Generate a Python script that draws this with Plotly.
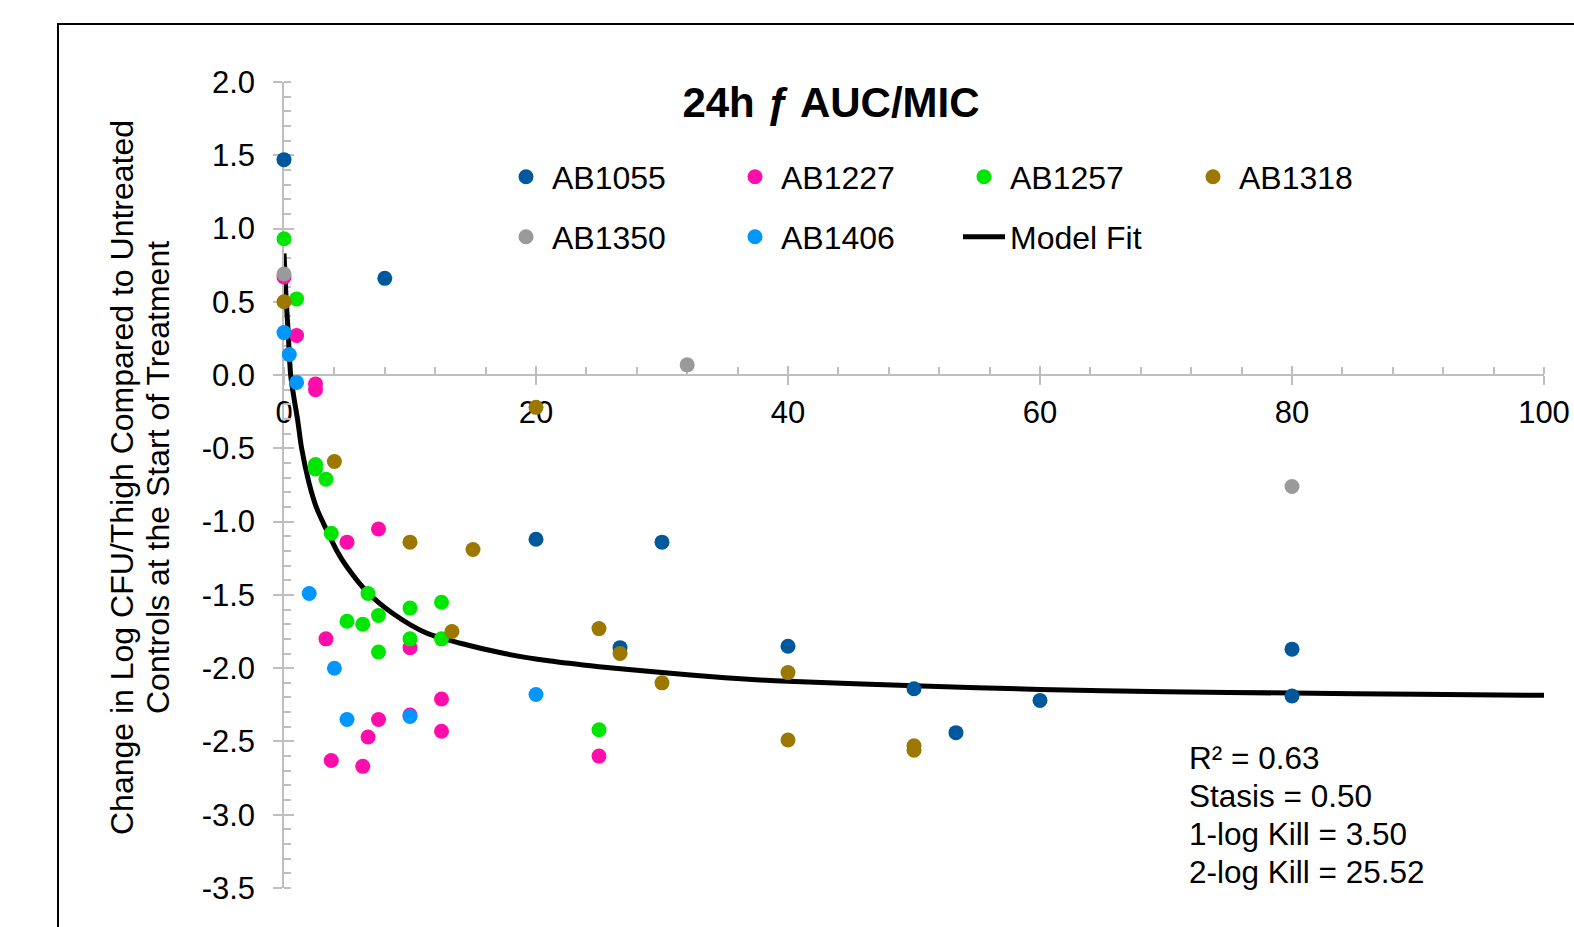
import plotly.graph_objects as go

# ---------------- data ----------------
ab1055_x = [0, 8, 20, 26.67, 30, 40, 50, 53.33, 60, 80, 80]
ab1055_y = [1.47, 0.66, -1.12, -1.86, -1.14, -1.85, -2.14, -2.44, -2.22, -1.87, -2.19]

ab1227_x = [0, 1, 2.5, 2.5, 3.33, 3.75, 5, 6.25, 6.67, 7.5, 7.5, 10, 10, 12.5, 12.5, 25]
ab1227_y = [0.67, 0.27, -0.06, -0.10, -1.80, -2.63, -1.14, -2.67, -2.47, -1.05, -2.35, -1.86, -2.32, -2.21, -2.43, -2.60]

ab1257_x = [0, 1, 2.5, 2.5, 3.33, 3.75, 5, 6.25, 6.67, 7.5, 7.5, 10, 10, 12.5, 12.5, 25]
ab1257_y = [0.93, 0.52, -0.61, -0.64, -0.71, -1.08, -1.68, -1.70, -1.49, -1.64, -1.89, -1.59, -1.80, -1.55, -1.80, -2.42]

ab1318_x = [0, 4, 10, 13.33, 15, 20, 25, 26.67, 30, 40, 40, 50, 50]
ab1318_y = [0.50, -0.59, -1.14, -1.75, -1.19, -0.22, -1.73, -1.90, -2.10, -2.03, -2.49, -2.53, -2.56]

ab1350_x = [0, 32, 80]
ab1350_y = [0.69, 0.07, -0.76]

ab1406_x = [0, 0.42, 1, 2, 4, 5, 10, 20]
ab1406_y = [0.29, 0.14, -0.05, -1.49, -2.00, -2.35, -2.33, -2.18]

fit_x = [0, 0.16, 0.32, 0.53, 0.8, 1.09, 1.4, 2.0, 2.6, 3.4, 4.2, 5.0, 6.6, 8.7, 11.3,
         14, 17.5, 21, 25, 30, 35, 40, 50, 60, 70, 80, 90, 100]
fit_y = [0.83, 0.53, 0.31, 0.0, -0.16, -0.31, -0.50, -0.74, -0.91, -1.06, -1.20, -1.31,
         -1.48, -1.63, -1.76, -1.83, -1.90, -1.95, -1.99, -2.03, -2.065, -2.09, -2.12,
         -2.145, -2.16, -2.17, -2.178, -2.185]

series_names = ["AB1055", "AB1227", "AB1257", "AB1318", "AB1350", "AB1406"]
series_colors = ["#00589C", "#FF0DAA", "#00E600", "#9C7800", "#9A9A9A", "#0096FF"]

x_tickvals = [0, 20, 40, 60, 80, 100]
x_ticktext = ["0", "20", "40", "60", "80", "100"]
y_tickvals = [2.0, 1.5, 1.0, 0.5, 0.0, -0.5, -1.0, -1.5, -2.0, -2.5, -3.0, -3.5]
y_ticktext = ["2.0", "1.5", "1.0", "0.5", "0.0", "-0.5", "-1.0", "-1.5", "-2.0", "-2.5", "-3.0", "-3.5"]

stats_lines = ["R² = 0.63", "Stasis = 0.50", "1-log Kill = 3.50", "2-log Kill = 25.52"]

# ---------------- layout geometry (pixels) ----------------
W, H = 1574, 927
L, R, T, B = 284, 1544, 82, 888
FONT = "Arial, Liberation Sans, sans-serif"
AX = "#BFBFBF"


def px_x(p):
    return (p - L) / (R - L)


def px_y(p):
    return (B - p) / (B - T)


fig = go.Figure()

fig.add_trace(go.Scatter(
    x=fit_x, y=fit_y, mode="lines", name="Model Fit",
    line=dict(color="black", width=5, shape="spline", smoothing=0.8),
    legend="legend2", legendrank=7, cliponaxis=False))

xs = [ab1055_x, ab1227_x, ab1257_x, ab1318_x, ab1350_x, ab1406_x]
ys = [ab1055_y, ab1227_y, ab1257_y, ab1318_y, ab1350_y, ab1406_y]
for i, (nm, col, xx, yy) in enumerate(zip(series_names, series_colors, xs, ys)):
    fig.add_trace(go.Scatter(
        x=xx, y=yy, mode="markers", name=nm,
        marker=dict(color=col, size=15, line=dict(width=0)),
        legend="legend" if i < 4 else "legend2", legendrank=i + 1,
        cliponaxis=False))

# empty trace to activate overlay axes (inner half of crossing major ticks)
fig.add_trace(go.Scatter(x=[], y=[], xaxis="x2", yaxis="y2", showlegend=False,
                         hoverinfo="skip"))

x0_pos = 3.5 / 5.5

common_tick = dict(tickcolor=AX, tickwidth=1.5)
ITEMW = 42
ENTRYW = 228 - (ITEMW + 10) - 4

legend_common = dict(orientation="h", xanchor="left", yanchor="middle",
                     entrywidth=ENTRYW, entrywidthmode="pixels", bgcolor="rgba(0,0,0,0)",
                     font=dict(size=32, family=FONT, color="black"),
                     itemsizing="trace", itemwidth=ITEMW)

fig.update_layout(
    width=W, height=H,
    margin=dict(l=L, r=W - R, t=T, b=H - B, autoexpand=False),
    paper_bgcolor="white", plot_bgcolor="white",
    font=dict(family=FONT, color="black", size=31),
    title=dict(text="<b>24h ƒ AUC/MIC</b>", font=dict(size=42, family=FONT, color="black"),
               xref="paper", yref="paper", x=px_x(831), y=px_y(102),
               xanchor="center", yanchor="middle"),
    xaxis=dict(range=[0, 100], anchor="free", position=x0_pos,
               tickmode="array", tickvals=x_tickvals, ticktext=x_ticktext,
               ticks="outside", ticklen=9, **common_tick,
               minor=dict(ticks="inside", ticklen=7, dtick=4, tick0=0, tickcolor=AX, tickwidth=1.5),
               showline=True, linecolor=AX, linewidth=1.5,
               showgrid=False, zeroline=False, layer="below traces",
               tickfont=dict(size=31, family=FONT, color="black"),
               ticklabelstandoff=1, fixedrange=True),
    yaxis=dict(range=[-3.5, 2.0], anchor="x",
               tickmode="array", tickvals=y_tickvals, ticktext=y_ticktext,
               ticks="outside", ticklen=9, **common_tick,
               minor=dict(ticks="inside", ticklen=7, dtick=0.1, tick0=0, tickcolor=AX, tickwidth=1.5),
               showline=True, linecolor=AX, linewidth=1.5,
               showgrid=False, zeroline=False, layer="below traces",
               tickfont=dict(size=31, family=FONT, color="black"),
               ticklabelstandoff=12, fixedrange=True),
    xaxis2=dict(range=[0, 100], overlaying="x", anchor="free", position=x0_pos,
                tickmode="array", tickvals=x_tickvals, ticks="inside", ticklen=9, **common_tick,
                showticklabels=False, showline=False, showgrid=False, zeroline=False,
                layer="below traces"),
    yaxis2=dict(range=[-3.5, 2.0], overlaying="y", anchor="free", position=0, side="left",
                tickmode="array", tickvals=y_tickvals, ticks="inside", ticklen=9, **common_tick,
                showticklabels=False, showline=False, showgrid=False, zeroline=False,
                layer="below traces"),
    legend=dict(x=px_x(500), y=px_y(177), **legend_common),
    legend2=dict(x=px_x(500), y=px_y(237), **legend_common),
    showlegend=True,
)

# outer chart border (cropped chart area frame)
fig.add_shape(type="rect", xref="paper", yref="paper",
              x0=px_x(58), y0=px_y(1000), x1=px_x(1700), y1=px_y(24),
              line=dict(color="black", width=2), fillcolor="rgba(0,0,0,0)", layer="below")

# y-axis title (two rotated lines)
for txt, cx in [("Change in Log CFU/Thigh Compared to Untreated", 122),
                ("Controls at the Start of Treatment", 158)]:
    fig.add_annotation(text=txt, xref="paper", yref="paper", x=px_x(cx), y=px_y(478),
                       xanchor="center", yanchor="middle", textangle=-90, showarrow=False,
                       font=dict(size=32, family=FONT, color="black"))

# statistics box
for k, line in enumerate(stats_lines):
    fig.add_annotation(text=line, xref="paper", yref="paper", x=px_x(1187), y=px_y(758 + 38 * k),
                       xanchor="left", yanchor="middle", showarrow=False,
                       font=dict(size=31.5, family=FONT, color="black"))

fig.write_html("out.html")
